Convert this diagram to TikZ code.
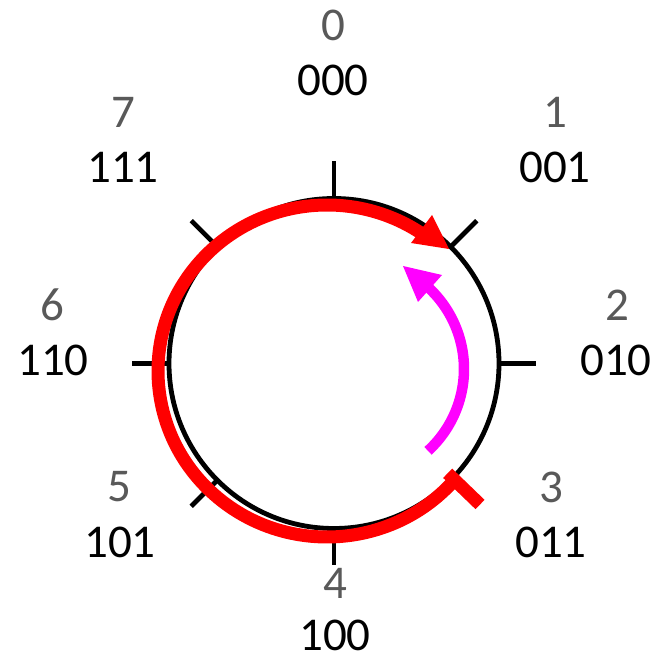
\documentclass[tikz,border=0pt]{standalone}
\usepackage{fontspec}
\setmainfont{Carlito}
\usetikzlibrary{calc}
\definecolor{lblgray}{HTML}{595959}
\definecolor{mag}{HTML}{FF00FF}
\begin{document}
\begin{tikzpicture}[x=1pt,y=1pt,
  ring/.style={line width=4.8pt, draw=black},
  tickline/.style={line width=4.6pt, draw=black},
  redpath/.style={line width=13pt, draw=red, line join=round},
  magpath/.style={line width=10.5pt, draw=mag},
  digit/.style={text=lblgray, font=\fontsize{47}{56}\selectfont, inner sep=0pt},
  code/.style={text=black, font=\fontsize{47}{56}\selectfont, inner sep=0pt}]
\useasboundingbox (0,0) rectangle (663,658);
\coordinate (O) at (334,294.5);
\coordinate (R) at (327,287);
\coordinate (M) at (353,289);
% ring and ticks
\draw[ring] (O) circle[radius=165];
\foreach \a in {90,45,0,-45,-90,-135,180,135}
  \draw[tickline] ($(O)+(\a:165)$) -- ($(O)+(\a:202)$);
% red path (slightly elliptical arc, clockwise)
\draw[redpath] ($(R)+({169*cos(-40.5)},{166*sin(-40.5)})$)
  arc[start angle=-40.5, end angle=-303.5, x radius=169, y radius=166];
\coordinate (rt) at (449,409);
\coordinate (rb1) at (432,443);
\coordinate (rb2) at (411,415);
\fill[red] (rt) -- (rb1) -- (rb2) -- cycle;
\draw[red, line width=13pt] ($(O)+(-44:158)$) -- ($(O)+(-44:203)$);
% magenta arrow
\draw[magpath] (M) ++(-47.5:111) arc[start angle=-47.5, end angle=47, radius=111];
\coordinate (mt) at (403,392);
\coordinate (mb1) at (442,383);
\coordinate (mb2) at (418,356);
\fill[mag] (mt) -- (mb1) -- (mb2) -- cycle;
% labels
\node[digit] (d0) at (333,633) {0};
\node[code]  (b0) at (333,578) {000};
\node[digit] (d1) at (555,546) {1};
\node[code]  (b1) at (555,491) {001};
\node[digit] (d2) at (617,353) {2};
\node[code]  (b2) at (616,298) {010};
\node[digit] (d3) at (551,171) {3};
\node[code]  (b3) at (551,116) {011};
\node[digit] (d4) at (335,75) {4};
\node[code]  (b4) at (335,23) {100};
\node[digit] (d5) at (119,171) {5};
\node[code]  (b5) at (120,116) {101};
\node[digit] (d6) at (52,353) {6};
\node[code]  (b6) at (53,298) {110};
\node[digit] (d7) at (123,546) {7};
\node[code]  (b7) at (123,491) {111};
\end{tikzpicture}
\end{document}
